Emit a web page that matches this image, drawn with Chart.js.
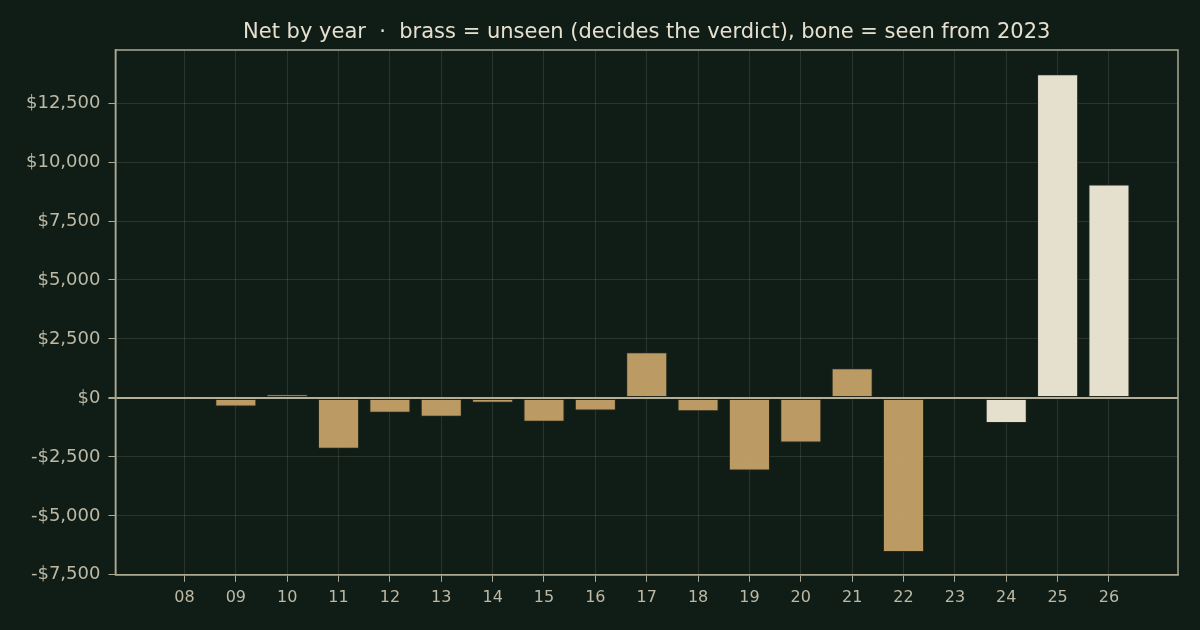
<!DOCTYPE html>
<html>
<head>
<meta charset="utf-8">
<script src="https://cdn.jsdelivr.net/npm/chart.js@4/dist/chart.umd.min.js"></script>
<style>
  html, body { margin: 0; padding: 0; background: #101d17; }
  #wrap { width: 1200px; height: 630px; }
</style>
</head>
<body>
<div id="wrap"><canvas id="c" width="1200" height="630"></canvas></div>
<script>
const years = [8, 9, 10, 11, 12, 13, 14, 15, 16, 17, 18, 19, 20, 21, 22, 23, 24, 25, 26];
const netValues = [0, -360, 155, -2160, -630, -800, -210, -1015, -535, 1940, -565, -3080, -1895, 1260, -6535, 0, -1060, 13720, 9050];
const seenFromYear = 23;
const yTickValues = [-7500, -5000, -2500, 0, 2500, 5000, 7500, 10000, 12500];
const yMin = -7500;
const yMax = 14750;
const titleText = 'Net by year  \u00b7  brass = unseen (decides the verdict), bone = seen from 2023';

const BRASS = 'rgba(195,159,103,0.96)';
const BONE = 'rgba(236,229,212,0.97)';
const AXIS = '#aca893';
const GRID = 'rgba(190,195,175,0.14)';
const TICK_TXT = '#bdb9a4';

const frame = {
  id: 'frame',
  afterDraw(chart) {
    const a = chart.chartArea, ctx = chart.ctx;
    ctx.save();
    ctx.strokeStyle = AXIS;
    ctx.lineWidth = 1.5;
    ctx.strokeRect(a.left, a.top, a.right - a.left, a.bottom - a.top);
    ctx.restore();
  }
};

new Chart(document.getElementById('c'), {
  type: 'bar',
  data: {
    datasets: [{
      data: years.map((y, i) => ({ x: y, y: netValues[i] })),
      backgroundColor: years.map(y => y >= seenFromYear ? BONE : BRASS),
      borderColor: 'rgba(40,45,30,0.8)',
      borderWidth: 1,
      borderSkipped: false,
      categoryPercentage: 0.8,
      barPercentage: 1.0
    }]
  },
  plugins: [frame],
  options: {
    responsive: false,
    animation: false,
    devicePixelRatio: 1,
    layout: { padding: { left: 18, right: 22, top: 6, bottom: 17 } },
    plugins: {
      legend: { display: false },
      tooltip: { enabled: false },
      title: {
        display: true,
        fullSize: false,
        text: titleText,
        color: '#e6e0cf',
        font: { family: 'DejaVu Sans', size: 21, weight: 'normal' },
        padding: { top: 14, bottom: 4.8 }
      }
    },
    scales: {
      x: {
        type: 'linear',
        offset: false,
        min: 8 - 1.344,
        max: 26 + 1.344,
        z: 1,
        afterBuildTicks(scale) {
          scale.ticks = years.map(v => ({ value: v }));
        },
        ticks: {
          stepSize: 1,
          autoSkip: false,
          maxRotation: 0,
          color: TICK_TXT,
          padding: 6,
          font: { family: 'DejaVu Sans', size: 16 },
          callback: v => String(v).padStart(2, '0')
        },
        grid: {
          offset: false,
          color: GRID,
          tickColor: AXIS,
          tickLength: 7,
          lineWidth: 1
        },
        border: { display: true, color: AXIS, width: 1.5 }
      },
      y: {
        min: yMin,
        max: yMax,
        z: 1,
        afterBuildTicks(scale) {
          scale.ticks = yTickValues.map(v => ({ value: v }));
        },
        ticks: {
          stepSize: 2500,
          color: TICK_TXT,
          padding: 8,
          font: { family: 'DejaVu Sans', size: 18 },
          callback: v => (v < 0 ? '-$' : '$') + Math.abs(v).toLocaleString('en-US')
        },
        grid: {
          color: ctx => (ctx.tick && ctx.tick.value === 0) ? '#b3af9b' : GRID,
          lineWidth: ctx => (ctx.tick && ctx.tick.value === 0) ? 2 : 1,
          tickColor: AXIS,
          tickLength: 7
        },
        border: { display: true, color: AXIS, width: 1.5 }
      }
    }
  }
});
</script>
</body>
</html>
